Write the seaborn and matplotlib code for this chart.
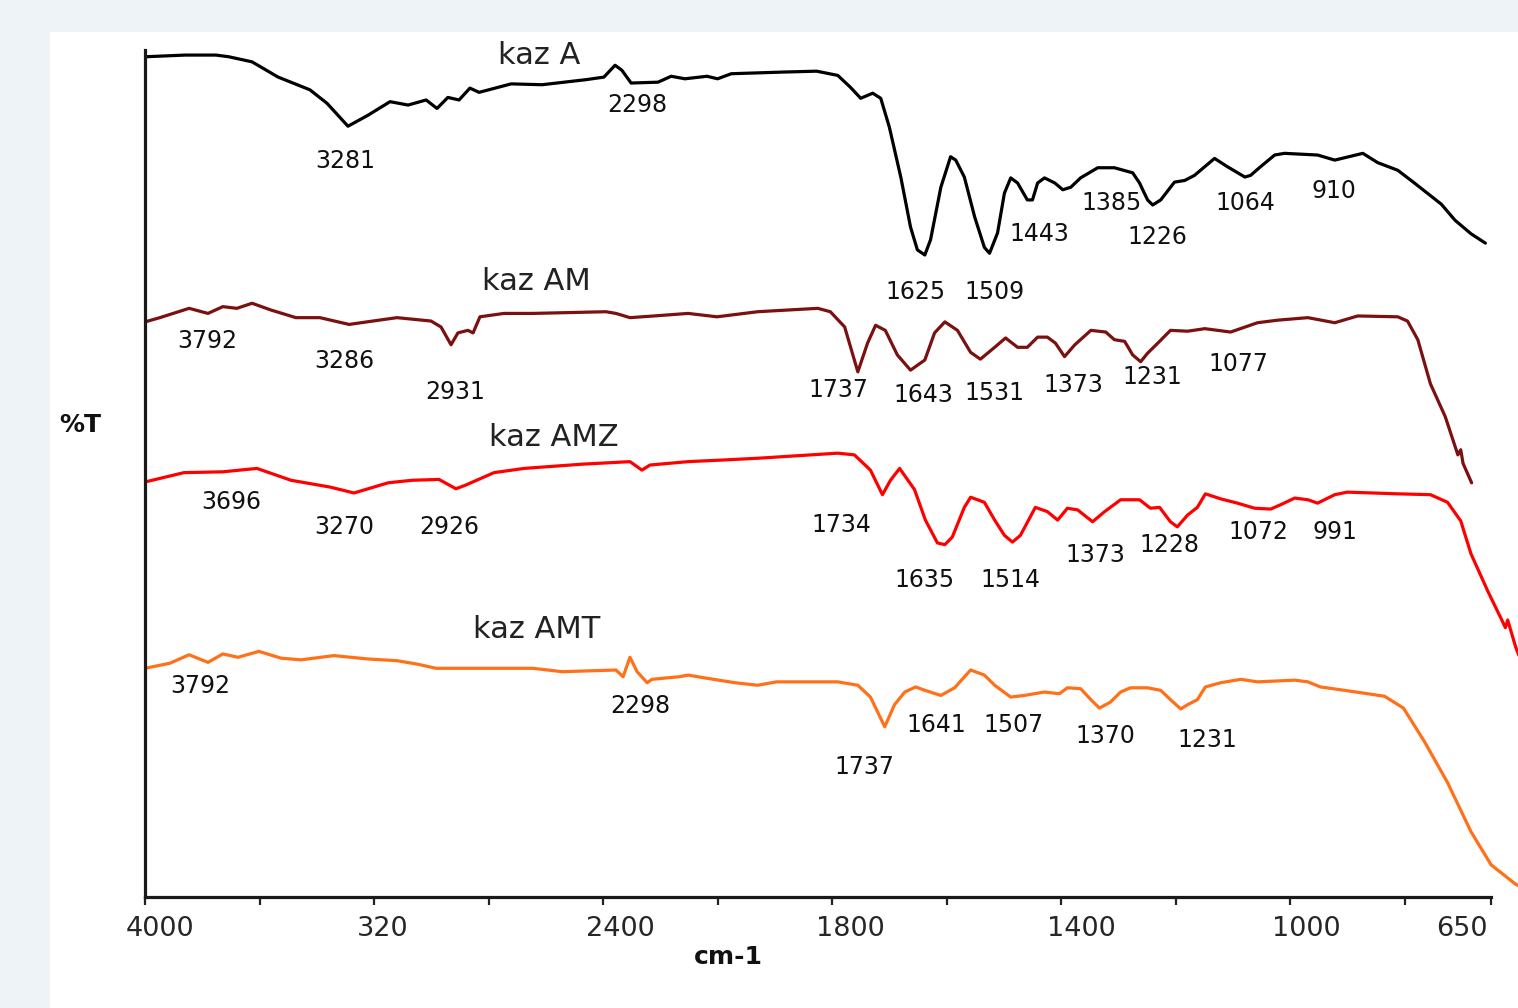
import numpy as np
import pandas as pd
import matplotlib
matplotlib.use("Agg")
import matplotlib.pyplot as plt
import matplotlib.transforms as mtransforms
from matplotlib.patches import Rectangle
from matplotlib.ticker import NullLocator
import seaborn as sns

# ---- FTIR spectra: wavenumber (cm-1) and stacked transmittance (%T) ----
kaz_a_wn = [4000, 3860, 3752, 3707, 3626, 3535, 3424, 3364, 3291, 3221,
            3144, 3081, 3018, 2980, 2942, 2903, 2865, 2833, 2721, 2613,
            2459, 2397, 2358, 2334, 2302, 2208, 2162, 2114, 2037, 2000,
            1976, 1883, 1827, 1790, 1768, 1750, 1729, 1715, 1700, 1680,
            1663, 1651, 1638, 1628, 1610, 1593, 1584, 1569, 1551, 1534,
            1525, 1511, 1499, 1488, 1476, 1459, 1450, 1441, 1429, 1411,
            1397, 1383, 1366, 1336, 1307, 1275, 1263, 1249, 1240, 1226,
            1202, 1184, 1167, 1132, 1109, 1079, 1069, 1052, 1027, 1010,
            952, 922, 873, 847, 812, 783, 736, 712, 684, 659]
kaz_a_t = [99.2, 99.4, 99.4, 99.2, 98.6, 96.8, 95.3, 93.7, 91.0, 92.3,
           93.9, 93.5, 94.1, 93.1, 94.4, 94.1, 95.5, 95.0, 96.0, 95.9,
           96.5, 96.8, 98.2, 97.6, 96.1, 96.2, 96.9, 96.6, 96.9, 96.6,
           97.2, 97.4, 97.5, 97.0, 95.6, 94.3, 94.9, 94.3, 90.9, 85.0,
           79.1, 76.4, 75.8, 77.6, 83.8, 87.4, 87.0, 85.0, 80.3, 76.7,
           76.0, 78.4, 83.1, 84.9, 84.3, 82.3, 82.3, 84.3, 84.9, 84.3,
           83.5, 83.8, 84.9, 86.1, 86.1, 85.5, 84.3, 82.3, 81.7, 82.3,
           84.4, 84.6, 85.2, 87.2, 86.2, 85.0, 85.2, 86.2, 87.6, 87.8,
           87.6, 87.0, 87.8, 86.7, 85.8, 84.3, 81.8, 79.9, 78.3, 77.2]

kaz_am_wn = [4000, 3948, 3846, 3780, 3728, 3679, 3626, 3560, 3473, 3389,
             3287, 3204, 3120, 3001, 2966, 2931, 2907, 2872, 2854, 2830,
             2746, 2645, 2390, 2355, 2306, 2222, 2103, 2002, 1930, 1825,
             1803, 1778, 1755, 1738, 1724, 1707, 1686, 1663, 1638, 1621,
             1603, 1581, 1558, 1541, 1516, 1497, 1476, 1459, 1441, 1424,
             1410, 1394, 1376, 1348, 1322, 1307, 1289, 1275, 1261, 1249,
             1231, 1209, 1179, 1149, 1104, 1057, 1022, 969, 922, 882,
             812, 795, 777, 755, 729, 707, 702, 698, 683]
kaz_am_t = [67.9, 68.4, 69.5, 68.9, 69.7, 69.5, 70.1, 69.3, 68.4, 68.4,
            67.6, 68.0, 68.4, 68.0, 67.3, 65.2, 66.6, 66.9, 66.6, 68.5,
            68.9, 68.9, 69.1, 68.9, 68.4, 68.6, 68.9, 68.5, 69.1, 69.5,
            69.1, 67.3, 62.0, 65.4, 67.5, 66.9, 64.0, 62.2, 63.4, 66.6,
            67.9, 66.9, 64.3, 63.5, 64.9, 66.0, 64.9, 64.9, 66.1, 66.1,
            65.4, 63.8, 65.2, 66.9, 66.7, 65.8, 65.6, 64.0, 63.2, 64.2,
            65.4, 66.9, 66.8, 67.1, 66.7, 67.8, 68.1, 68.4, 67.8, 68.6,
            68.5, 68.0, 65.8, 60.6, 56.7, 52.2, 52.8, 51.2, 48.9]

kaz_amz_wn = [4000, 3864, 3728, 3609, 3490, 3354, 3270, 3151, 3067, 2973,
              2914, 2882, 2781, 2676, 2473, 2306, 2264, 2236, 2103, 1988,
              1930, 1790, 1761, 1733, 1712, 1698, 1682, 1656, 1637, 1616,
              1603, 1590, 1569, 1558, 1534, 1516, 1499, 1485, 1471, 1445,
              1424, 1406, 1389, 1371, 1345, 1324, 1296, 1263, 1244, 1228,
              1209, 1197, 1179, 1162, 1148, 1121, 1092, 1062, 1034, 1017,
              992, 969, 952, 922, 900, 812, 755, 725, 702, 684,
              654, 631, 624, 620, 606, 594]
kaz_amz_t = [49.0, 50.1, 50.2, 50.6, 49.2, 48.4, 47.7, 48.9, 49.2, 49.3,
             48.2, 48.6, 50.1, 50.6, 51.1, 51.4, 50.4, 51.0, 51.4, 51.6,
             51.8, 52.4, 52.2, 50.4, 47.5, 49.2, 50.6, 48.1, 44.5, 41.8,
             41.6, 42.5, 46.0, 47.2, 46.6, 44.5, 42.7, 41.9, 42.7, 46.0,
             45.5, 44.5, 45.9, 45.7, 44.3, 45.5, 46.9, 46.9, 45.9, 46.0,
             44.3, 43.7, 45.1, 46.0, 47.6, 47.0, 46.5, 45.9, 45.8, 46.3,
             47.1, 46.9, 46.5, 47.5, 47.8, 47.6, 47.5, 46.6, 44.4, 40.5,
             36.0, 32.8, 31.8, 32.7, 29.5, 27.4]

kaz_amt_wn = [4000, 3913, 3846, 3780, 3728, 3675, 3602, 3525, 3455, 3340,
              3221, 3120, 3050, 2983, 2812, 2645, 2543, 2355, 2330, 2306,
              2281, 2246, 2229, 2135, 2103, 2051, 1970, 1930, 1897, 1790,
              1755, 1733, 1708, 1691, 1673, 1654, 1638, 1610, 1586, 1558,
              1534, 1516, 1488, 1464, 1429, 1403, 1389, 1366, 1348, 1333,
              1314, 1296, 1279, 1249, 1226, 1209, 1191, 1179, 1162, 1148,
              1121, 1086, 1057, 992, 969, 947, 905, 835, 802, 765,
              725, 684, 649, 606, 594]
kaz_amt_t = [27.0, 27.6, 28.6, 27.7, 28.7, 28.3, 29.0, 28.2, 28.0, 28.5,
             28.1, 27.9, 27.5, 27.0, 27.0, 27.0, 26.6, 26.8, 26.0, 28.3,
             26.6, 25.3, 25.7, 26.0, 26.2, 25.9, 25.3, 25.0, 25.4, 25.4,
             25.0, 23.6, 20.1, 22.7, 24.2, 24.8, 24.4, 23.8, 24.7, 26.8,
             26.2, 25.0, 23.6, 23.8, 24.2, 24.0, 24.7, 24.6, 23.3, 22.3,
             23.0, 24.2, 24.7, 24.7, 24.4, 23.3, 22.2, 22.7, 23.3, 24.8,
             25.3, 25.7, 25.4, 25.6, 25.4, 24.8, 24.4, 23.7, 22.3, 18.3,
             13.5, 7.7, 3.8, 1.5, 1.1]

sample_names = ["kaz A", "kaz AM", "kaz AMZ", "kaz AMT"]
sample_colors = ["#000000", "#7b1010", "#ff0000", "#ff7018"]

tick_wn = [4000, 3600, 3200, 2800, 2400, 2000, 1800, 1600, 1400, 1200, 1000, 800, 650]
tick_text = ["4000", "", "320", "", "2400", "", "1800", "", "1400", "", "1000", "", "650"]

# peak annotations: (text, x px, y px) on the 1518x1008 canvas
peak_notes = [
    ("3281", 345, 161), ("2298", 637, 105), ("1625", 916, 292), ("1509", 995, 292),
    ("1443", 1039, 234), ("1385", 1112, 203), ("1226", 1157, 237), ("1064", 1245, 203),
    ("910", 1334, 191),
    ("3792", 207, 341), ("3286", 344, 361), ("2931", 455, 392), ("1737", 838, 390),
    ("1643", 923, 395), ("1531", 994, 393), ("1373", 1073, 385), ("1231", 1152, 377),
    ("1077", 1238, 364),
    ("3696", 231, 502), ("3270", 344, 527), ("2926", 449, 527), ("1734", 841, 525),
    ("1635", 924, 580), ("1514", 1010, 580), ("1373", 1095, 555), ("1228", 1169, 545),
    ("1072", 1258, 532), ("991", 1335, 532),
    ("3792", 200, 686), ("2298", 640, 706), ("1641", 936, 725), ("1507", 1013, 725),
    ("1370", 1105, 736), ("1231", 1207, 740), ("1737", 864, 767),
]
name_notes = [(539, 55), (536, 281), (554, 438), (537, 630)]

# ---- long-form table for seaborn ----
frames = []
for name, wn, t in zip(sample_names,
                       [kaz_a_wn, kaz_am_wn, kaz_amz_wn, kaz_amt_wn],
                       [kaz_a_t, kaz_am_t, kaz_amz_t, kaz_amt_t]):
    frames.append(pd.DataFrame({"wn": wn, "T": t, "sample": name}))
df = pd.concat(frames, ignore_index=True)

sns.set_style("white")
plt.rcParams["font.family"] = ["DejaVu Sans"]

W, H = 1518, 1008
fig = plt.figure(figsize=(W / 100, H / 100), dpi=100)
fig.patch.set_facecolor("#eef3f7")
fig.patches.append(Rectangle((50 / W, 0), 1 - 50 / W, (H - 32) / H,
                             transform=fig.transFigure, facecolor="white",
                             edgecolor="none", zorder=-10))

ax = fig.add_axes([145 / W, (H - 897) / H, (W - 145) / W, (897 - 50) / H])
ax.set_facecolor("white")


# FTIR axis: 400 cm-1 per division above 2000, 200 cm-1 per division below
def _fwd(w):
    w = np.asarray(w, dtype=float)
    return np.where(w >= 2000, (w - 2000) / 400.0, (w - 2000) / 200.0)


def _inv(u):
    u = np.asarray(u, dtype=float)
    return np.where(u >= 0, 2000 + 400.0 * u, 2000 + 200.0 * u)


ax.set_xscale("function", functions=(_fwd, _inv))

sns.lineplot(data=df, x="wn", y="T", hue="sample", hue_order=sample_names,
             palette=dict(zip(sample_names, sample_colors)),
             sort=False, estimator=None, legend=False, linewidth=2.3, ax=ax)
for line in ax.get_lines():
    line.set_solid_joinstyle("round")
    line.set_solid_capstyle("round")

ax.set_xlim(4000, 602)
ax.set_ylim(0, 100)
ax.set_xlabel("")
ax.set_ylabel("")
ax.set_yticks([])

ax.set_xticks(tick_wn)
ax.set_xticklabels(tick_text)
ax.xaxis.set_minor_locator(NullLocator())
ax.tick_params(axis="x", direction="out", length=6, width=1.6, color="#222222",
               labelsize=19.5, pad=8, bottom=True)

label_shift_px = [15, 0, 9, 0, 17, 0, 18, 0, 20, 0, 16, 0, -29]
for lab, dx in zip(ax.get_xticklabels(), label_shift_px):
    lab.set_transform(lab.get_transform() +
                      mtransforms.ScaledTranslation(dx / 100, 0, fig.dpi_scale_trans))

for side in ("top", "right"):
    ax.spines[side].set_visible(False)
for side in ("left", "bottom"):
    ax.spines[side].set_linewidth(2.3)
    ax.spines[side].set_color("#1a1a1a")
ax.spines["bottom"].set_bounds(650, 4000)

for txt, px, py in peak_notes:
    fig.text(px / W, 1 - py / H, txt, ha="center", va="center",
             fontsize=17, color="#111111")

for name, (px, py) in zip(sample_names, name_notes):
    fig.text(px / W, 1 - py / H, name, ha="center", va="center",
             fontsize=22, color="#222222")

fig.text(80 / W, 1 - 425 / H, "%T", ha="center", va="center",
         fontsize=18, fontweight="bold", color="#111111")
fig.text(728 / W, 1 - 957 / H, "cm-1", ha="center", va="center",
         fontsize=18, fontweight="bold", color="#111111")

fig.savefig("out.png", dpi=100, facecolor=fig.get_facecolor())
